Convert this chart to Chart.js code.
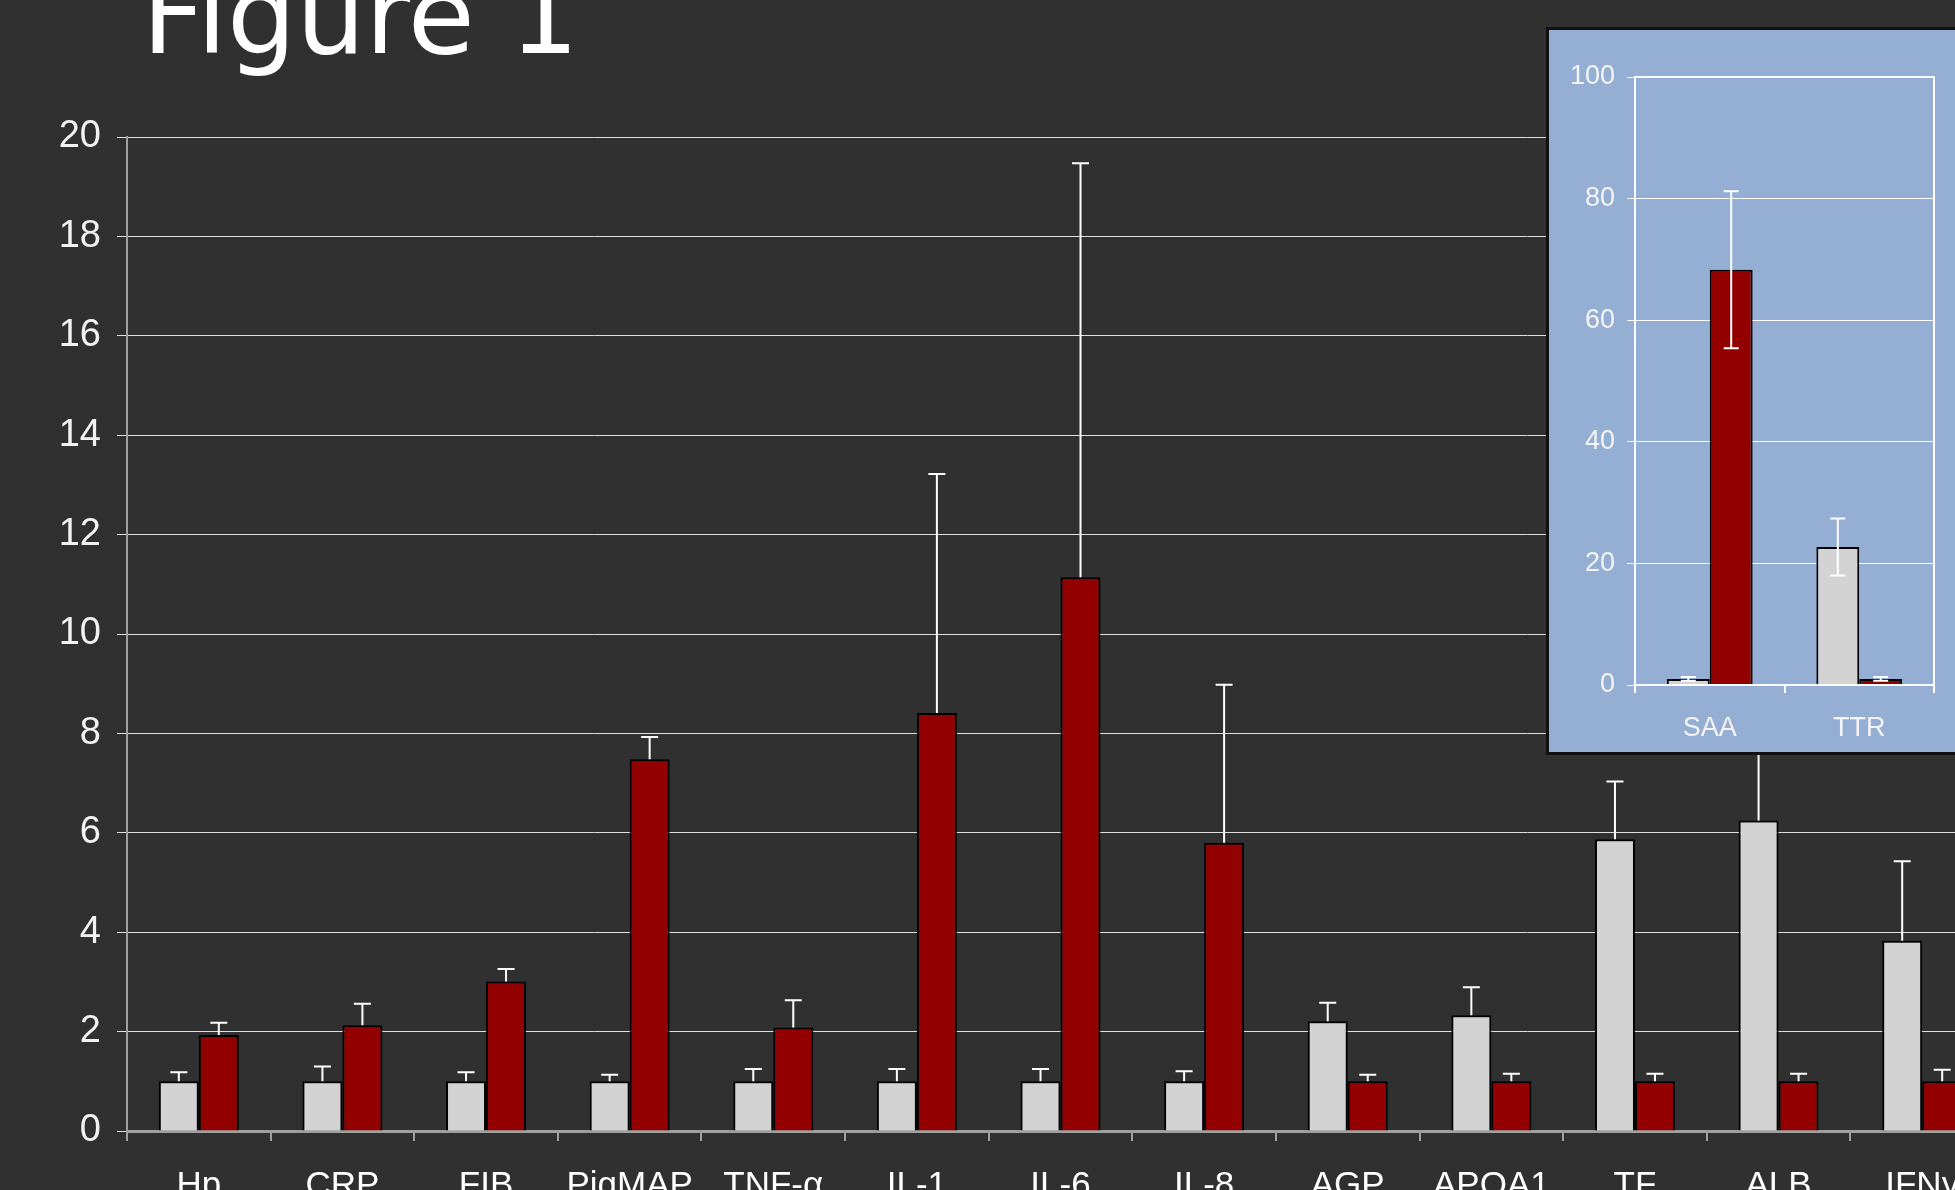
<!DOCTYPE html>
<html>
<head>
  <meta charset="utf-8">
  <title>Figure 1</title>
  <script src="https://cdn.jsdelivr.net/npm/chart.js@4.4.1/dist/chart.umd.min.js"></script>
  <style>
    html, body { margin:0; padding:0; background:#303030; overflow:hidden; width:1955px; height:1190px; }
    #title { position:absolute; left:142px; top:-39px; font-family:"DejaVu Sans", Verdana, sans-serif; font-size:109px; line-height:1; color:#fff; white-space:nowrap; }
    #main { position:absolute; left:0; top:0; }
    #inset-box { position:absolute; left:1546px; top:27px; width:440px; height:728px; box-sizing:border-box; border:3px solid #111; background:#94aed4; }
    #inset { position:absolute; left:0; top:0; }
  </style>
</head>
<body>
  <div id="title">Figure 1</div>
  <canvas id="main" width="2000" height="1240"></canvas>
  <div id="inset-box">
    <canvas id="inset" width="434" height="722"></canvas>
  </div>
  <script>
  // fold change vs control, mean and SD
  const categories = ['Hp', 'CRP', 'FIB', 'PigMAP', 'TNF-α', 'IL-1', 'IL-6', 'IL-8', 'AGP', 'APOA1', 'TF', 'ALB', 'IFNγ'];
  const control    = [1, 1, 1, 1, 1, 1, 1, 1, 2.21, 2.33, 5.87, 6.25, 3.83];
  const infected   = [1.93, 2.13, 3.01, 7.48, 2.08, 8.41, 11.14, 5.80, 1, 1, 1, 1, 1];
  const controlSd  = [0.18, 0.30, 0.18, 0.13, 0.25, 0.25, 0.25, 0.20, 0.37, 0.56, 1.16, 2.35, 1.60];
  const infectedSd = [0.25, 0.43, 0.25, 0.45, 0.55, 4.81, 8.33, 3.18, 0.13, 0.15, 0.15, 0.15, 0.23];
  const yTicks = [0, 20, 2];

  // SAA and TTR on their own scale
  const insetCategories = ['SAA', 'TTR'];
  const insetControl    = [1, 22.7];
  const insetInfected   = [68.3, 1];
  const insetControlSd  = [0.3, 4.7];
  const insetInfectedSd = [12.9, 0.3];
  const insetTicks = [0, 100, 20];

  const GREY_BAR = '#d3d3d3';
  const RED_BAR = '#930000';

  Chart.defaults.font.family = '"Liberation Sans", Arial, sans-serif';
  Chart.defaults.animation = false;

  // whiskers on top of each bar, drawn from dataset.errors
  const errorBars = {
    id: 'errorBars',
    afterDatasetsDraw(chart, args, opts) {
      const ctx = chart.ctx;
      const y = chart.scales.y;
      ctx.save();
      ctx.strokeStyle = opts.color || '#fff';
      ctx.lineWidth = 2;
      chart.data.datasets.forEach((ds, i) => {
        chart.getDatasetMeta(i).data.forEach((bar, j) => {
          const v = ds.data[j], e = ds.errors[j];
          const top = y.getPixelForValue(v + e);
          const bottom = opts.both ? y.getPixelForValue(v - e) : bar.y;
          const half = opts.cap / 2;
          ctx.beginPath();
          ctx.moveTo(bar.x, bottom);
          ctx.lineTo(bar.x, top);
          ctx.moveTo(bar.x - half, top);
          ctx.lineTo(bar.x + half, top);
          if (opts.both) {
            ctx.moveTo(bar.x - half, bottom);
            ctx.lineTo(bar.x + half, bottom);
          }
          ctx.stroke();
        });
      });
      ctx.restore();
    }
  };

  function bars(values, errors, colour, width) {
    return {
      data: values,
      errors: errors,
      backgroundColor: colour,
      borderColor: '#000',
      borderWidth: 2,
      categoryPercentage: width,
      barPercentage: 1
    };
  }

  new Chart(document.getElementById('main'), {
    type: 'bar',
    data: {
      labels: categories,
      datasets: [
        bars(control, controlSd, GREY_BAR, 0.557),
        bars(infected, infectedSd, RED_BAR, 0.557)
      ]
    },
    options: {
      responsive: false,
      layout: { padding: { top: 137, right: 6, left: 0, bottom: 0 } },
      plugins: {
        legend: { display: false },
        tooltip: { enabled: false },
        errorBars: { cap: 17, both: false }
      },
      scales: {
        x: {
          afterFit(scale) { scale.height = 109; },
          grid: { drawOnChartArea: false, color: '#a0a0a0', lineWidth: 2, tickLength: 10 },
          border: { color: '#a0a0a0', width: 3 },
          ticks: { color: '#fff', font: { size: 35 }, padding: 24, autoSkip: false, maxRotation: 0 }
        },
        y: {
          min: yTicks[0], max: yTicks[1],
          afterFit(scale) { scale.width = 127; },
          grid: { color: 'rgba(255,255,255,0.85)', lineWidth: 1, tickLength: 10 },
          border: { color: '#a0a0a0', width: 2 },
          ticks: { stepSize: yTicks[2], color: '#f2f2f2', font: { size: 38 }, padding: 16 }
        }
      }
    },
    plugins: [errorBars]
  });

  // white frame round the inset plot area
  const frame = {
    id: 'frame',
    afterDraw(chart) {
      const a = chart.chartArea, ctx = chart.ctx;
      ctx.save();
      ctx.strokeStyle = '#fff';
      ctx.lineWidth = 2;
      ctx.strokeRect(a.left, a.top, a.right - a.left, a.bottom - a.top);
      ctx.restore();
    }
  };

  new Chart(document.getElementById('inset'), {
    type: 'bar',
    data: {
      labels: insetCategories,
      datasets: [
        bars(insetControl, insetControlSd, GREY_BAR, 0.574),
        bars(insetInfected, insetInfectedSd, RED_BAR, 0.574)
      ]
    },
    options: {
      responsive: false,
      layout: { padding: { top: 47, right: 49, left: 0, bottom: 0 } },
      plugins: {
        legend: { display: false },
        tooltip: { enabled: false },
        errorBars: { cap: 15, both: true }
      },
      scales: {
        x: {
          afterFit(scale) { scale.height = 67; },
          grid: { drawOnChartArea: false, color: '#fff', lineWidth: 2, tickLength: 8 },
          border: { color: '#fff', width: 2 },
          ticks: { color: '#f4f4f4', font: { size: 27 }, padding: 19, autoSkip: false, maxRotation: 0 }
        },
        y: {
          min: insetTicks[0], max: insetTicks[1],
          afterFit(scale) { scale.width = 86; },
          grid: { color: '#fff', lineWidth: 1, tickLength: 8 },
          border: { color: '#fff', width: 2 },
          ticks: { stepSize: insetTicks[2], color: '#f4f4f4', font: { size: 27 }, padding: 12 }
        }
      }
    },
    plugins: [errorBars, frame]
  });
  </script>
</body>
</html>
